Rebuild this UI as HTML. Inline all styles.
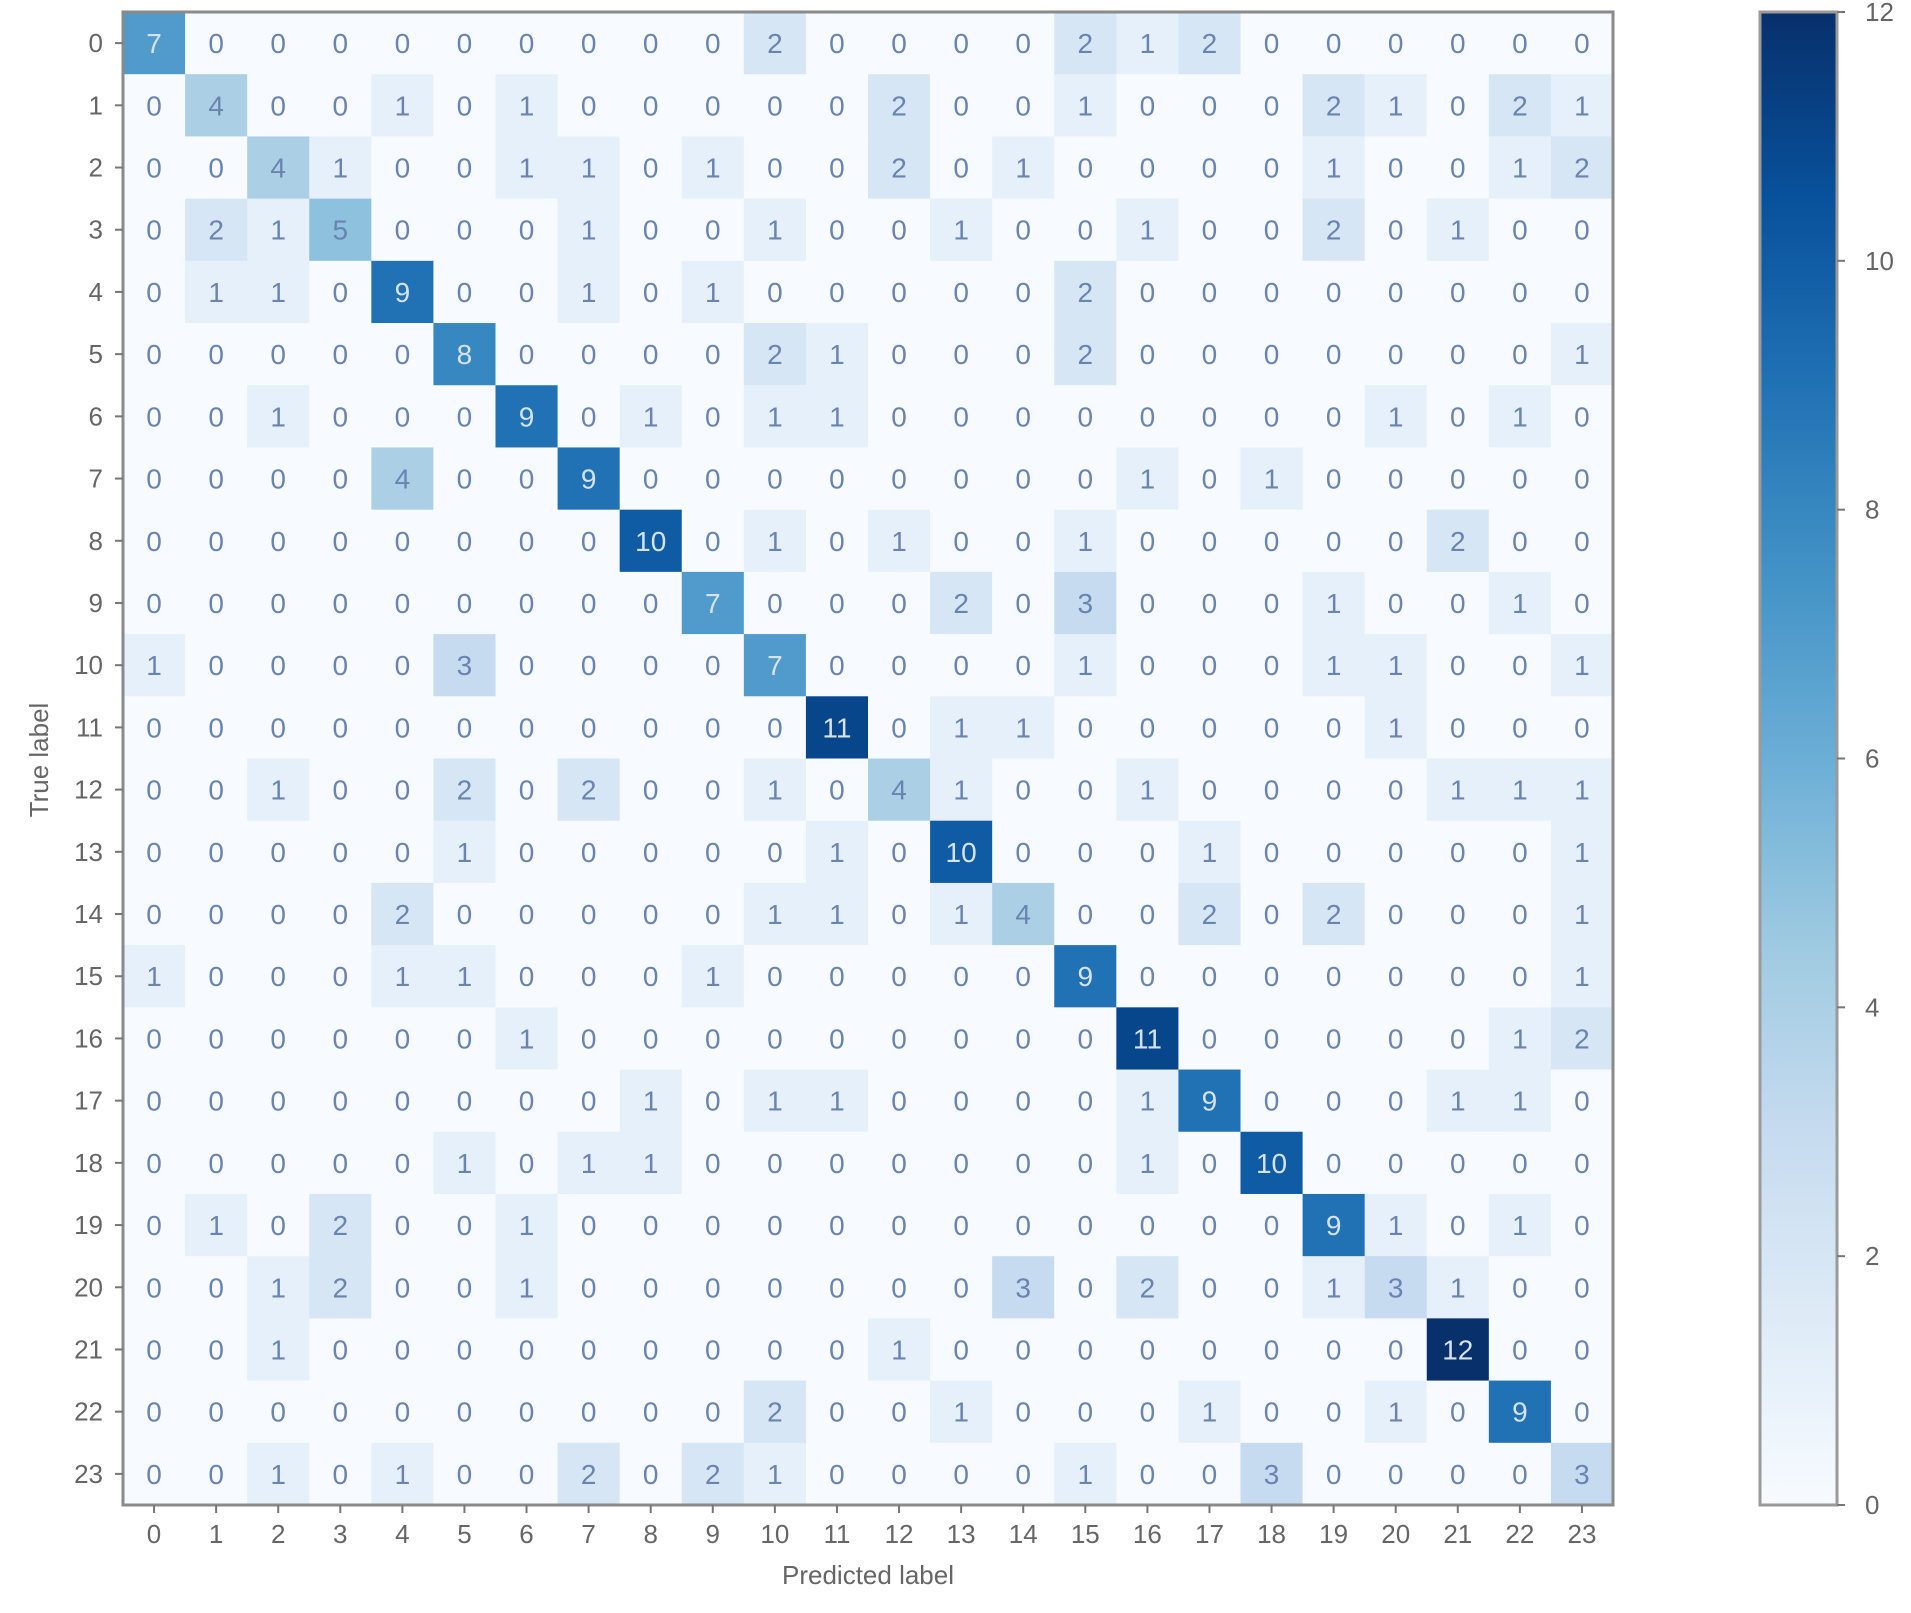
<!DOCTYPE html>
<html><head><meta charset="utf-8"><style>
body{margin:0;background:#fff;}
svg{display:block;font-family:"Liberation Sans",sans-serif;}
</style></head><body>
<svg id="chart" width="1911" height="1613" viewBox="0 0 1911 1613"></svg>
<script>
const labels = ["0","1","2","3","4","5","6","7","8","9","10","11","12","13","14","15","16","17","18","19","20","21","22","23"];
const matrix = [
[7,0,0,0,0,0,0,0,0,0,2,0,0,0,0,2,1,2,0,0,0,0,0,0],
[0,4,0,0,1,0,1,0,0,0,0,0,2,0,0,1,0,0,0,2,1,0,2,1],
[0,0,4,1,0,0,1,1,0,1,0,0,2,0,1,0,0,0,0,1,0,0,1,2],
[0,2,1,5,0,0,0,1,0,0,1,0,0,1,0,0,1,0,0,2,0,1,0,0],
[0,1,1,0,9,0,0,1,0,1,0,0,0,0,0,2,0,0,0,0,0,0,0,0],
[0,0,0,0,0,8,0,0,0,0,2,1,0,0,0,2,0,0,0,0,0,0,0,1],
[0,0,1,0,0,0,9,0,1,0,1,1,0,0,0,0,0,0,0,0,1,0,1,0],
[0,0,0,0,4,0,0,9,0,0,0,0,0,0,0,0,1,0,1,0,0,0,0,0],
[0,0,0,0,0,0,0,0,10,0,1,0,1,0,0,1,0,0,0,0,0,2,0,0],
[0,0,0,0,0,0,0,0,0,7,0,0,0,2,0,3,0,0,0,1,0,0,1,0],
[1,0,0,0,0,3,0,0,0,0,7,0,0,0,0,1,0,0,0,1,1,0,0,1],
[0,0,0,0,0,0,0,0,0,0,0,11,0,1,1,0,0,0,0,0,1,0,0,0],
[0,0,1,0,0,2,0,2,0,0,1,0,4,1,0,0,1,0,0,0,0,1,1,1],
[0,0,0,0,0,1,0,0,0,0,0,1,0,10,0,0,0,1,0,0,0,0,0,1],
[0,0,0,0,2,0,0,0,0,0,1,1,0,1,4,0,0,2,0,2,0,0,0,1],
[1,0,0,0,1,1,0,0,0,1,0,0,0,0,0,9,0,0,0,0,0,0,0,1],
[0,0,0,0,0,0,1,0,0,0,0,0,0,0,0,0,11,0,0,0,0,0,1,2],
[0,0,0,0,0,0,0,0,1,0,1,1,0,0,0,0,1,9,0,0,0,1,1,0],
[0,0,0,0,0,1,0,1,1,0,0,0,0,0,0,0,1,0,10,0,0,0,0,0],
[0,1,0,2,0,0,1,0,0,0,0,0,0,0,0,0,0,0,0,9,1,0,1,0],
[0,0,1,2,0,0,1,0,0,0,0,0,0,0,3,0,2,0,0,1,3,1,0,0],
[0,0,1,0,0,0,0,0,0,0,0,0,1,0,0,0,0,0,0,0,0,12,0,0],
[0,0,0,0,0,0,0,0,0,0,2,0,0,1,0,0,0,1,0,0,1,0,9,0],
[0,0,1,0,1,0,0,2,0,2,1,0,0,0,0,1,0,0,3,0,0,0,0,3]
];
const cbTicks = [0,2,4,6,8,10,12];
const vmin = 0, vmax = 12;

const NS = "http://www.w3.org/2000/svg";
const svg = document.getElementById("chart");
const L = 123, T = 12, R = 1613, B = 1505;
const n = labels.length;
const cw = (R - L) / n, ch = (B - T) / n;
const xPos = i => L + i * cw;
const yPos = i => T + i * ch;
const stops = ["#f7fbff","#deebf7","#c6dbef","#9ecae1","#6baed6","#4292c6","#2171b5","#08519c","#08306b"];
function hex(h){return [1,3,5].map(k=>parseInt(h.substr(k,2),16));}
function blues(v){
  let t = Math.max(0, Math.min(1, (v - vmin) / (vmax - vmin))) * (stops.length - 1);
  let i = Math.min(stops.length - 2, Math.floor(t)), f = t - i;
  const a = hex(stops[i]), b = hex(stops[i+1]);
  return "rgb(" + a.map((c,k)=>Math.round(c + (b[k]-c)*f)).join(",") + ")";
}
function mk(tag, attrs, parent){
  const e = document.createElementNS(NS, tag);
  for (const k in attrs) e.setAttribute(k, attrs[k]);
  (parent || svg).appendChild(e);
  return e;
}
const cells = mk("g", {});


matrix.forEach((row, r) => row.forEach((v, c) => {
  const rect = mk("rect", {x: xPos(c), y: yPos(r), width: cw + 0.6, height: ch + 0.6, fill: blues(v)}, cells);
  
  
  const t = mk("text", {x: xPos(c) + cw/2, y: yPos(r) + ch/2 + 10, "text-anchor": "middle", "font-size": 28, fill: v > 6 ? "#d6e2f0" : "#6a84b2"}, cells);
  t.textContent = v;
  
  
}));
const frame = mk("rect", {x: L, y: T, width: R - L, height: B - T, fill: "none", stroke: "#8a8a8a", "stroke-width": 3});


labels.forEach((lab, i) => {
  const cx = xPos(i) + cw/2, cy = yPos(i) + ch/2;
  const tx = mk("line", {x1: cx, x2: cx, y1: B, y2: B + 8, stroke: "#777", "stroke-width": 2});
  
  
  const xl = mk("text", {x: cx, y: B + 38, "text-anchor": "middle", "font-size": 26, fill: "#666"});
  xl.textContent = lab;
  
  
  const ty = mk("line", {x1: L - 8, x2: L, y1: cy, y2: cy, stroke: "#777", "stroke-width": 2});
  
  
  const yl = mk("text", {x: L - 20, y: cy + 9, "text-anchor": "end", "font-size": 26, fill: "#666"});
  yl.textContent = lab;
  
  
});
const xt = mk("text", {x: (L+R)/2, y: 1584, "text-anchor": "middle", "font-size": 26, fill: "#666"});
xt.textContent = "Predicted label";


const yt = mk("text", {x: 0, y: 0, "text-anchor": "middle", "font-size": 26, fill: "#666", transform: "translate(48,760) rotate(-90)"});
yt.textContent = "True label";



// colorbar
const CL = 1760, CR = 1837;
const defs = mk("defs", {});
const grad = mk("linearGradient", {id: "cbg", x1: 0, y1: 1, x2: 0, y2: 0}, defs);
stops.forEach((s, i) => mk("stop", {offset: (i/(stops.length-1)), "stop-color": s}, grad));
const cb = mk("rect", {x: CL, y: T, width: CR - CL, height: B - T, fill: "url(#cbg)", stroke: "#9a9a9a", "stroke-width": 3});


const cy = v => B - (v - vmin) / (vmax - vmin) * (B - T);
cbTicks.forEach(v => {
  const tk = mk("line", {x1: CR, x2: CR + 8, y1: cy(v), y2: cy(v), stroke: "#777", "stroke-width": 2});
  
  
  const tl = mk("text", {x: CR + 28, y: cy(v) + 9, "font-size": 26, fill: "#666"});
  tl.textContent = v;
  
  
});
</script>
</body></html>
